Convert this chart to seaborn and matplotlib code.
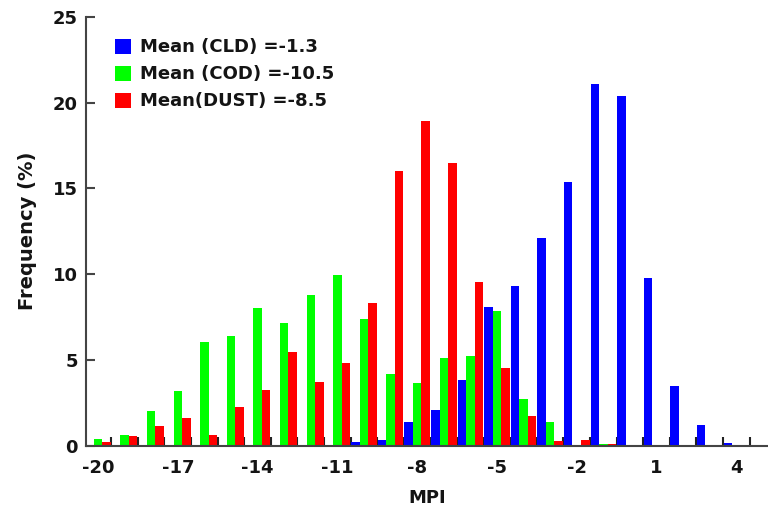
import numpy as np
import pandas as pd
import matplotlib
matplotlib.use("Agg")
import matplotlib.pyplot as plt
import seaborn as sns

mpi = list(range(-20, 5))
cld = [0, 0, 0, 0, 0, 0, 0, 0, 0, 0,
       0.2, 0.3, 1.35, 2.1, 3.8, 8.1, 9.3, 12.1, 15.4, 21.1, 20.4, 9.8, 3.45, 1.2, 0.15]
cod = [0.4, 0.6, 2.0, 3.2, 6.05, 6.4, 8.0, 7.15, 8.8, 9.95,
       7.4, 4.15, 3.65, 5.1, 5.25, 7.85, 2.7, 1.4, 0.0, 0.1, 0, 0, 0, 0, 0]
dust = [0.2, 0.55, 1.15, 1.6, 0.6, 2.27, 3.25, 5.45, 3.7, 4.8,
        8.3, 16.0, 18.95, 16.5, 9.55, 4.5, 1.7, 0.25, 0.3, 0.1, 0, 0, 0, 0, 0]
labels = ["Mean (CLD) =-1.3", "Mean (COD) =-10.5", "Mean(DUST) =-8.5"]
colors = ["#0000FF", "#00FF00", "#FF0000"]
xtick_vals = [-20, -17, -14, -11, -8, -5, -2, 1, 4]
ytick_vals = [0, 5, 10, 15, 20, 25]

df = pd.concat([
    pd.DataFrame({"MPI": mpi, "Frequency": vals, "series": lab})
    for vals, lab in zip([cld, cod, dust], labels)
], ignore_index=True)

sns.set_style("white")
plt.rcParams["font.family"] = ["DejaVu Sans"]
plt.rcParams["font.weight"] = "bold"
txt_c = "#141414"
plt.rcParams["text.color"] = txt_c
plt.rcParams["axes.labelcolor"] = txt_c
plt.rcParams["xtick.color"] = txt_c
plt.rcParams["ytick.color"] = txt_c

fig = plt.figure(figsize=(7.68, 5.11), dpi=100)
ax = fig.add_axes([86 / 768, 1 - 445.5 / 511, 1 - 86 / 768, (445.5 - 17) / 511])

sns.barplot(data=df, x="MPI", y="Frequency", hue="series", hue_order=labels,
            palette=colors, native_scale=True, width=0.96, saturation=1,
            linewidth=0, errorbar=None, ax=ax)

ax.set_xlim(-20.45, 5.19)
ax.set_ylim(0, 25)
ax.set_xticks(xtick_vals)
ax.set_xticklabels([str(v) for v in xtick_vals])
ax.set_xticks(np.arange(-19.5, 5, 1), minor=True)
ax.set_yticks(ytick_vals)

spine_c = "#444444"
for s in ["top", "right"]:
    ax.spines[s].set_visible(False)
for s in ["left", "bottom"]:
    ax.spines[s].set_color(spine_c)
    ax.spines[s].set_linewidth(1.5)

ax.tick_params(axis="x", which="major", length=0, pad=10, labelsize=13,
               labelcolor=txt_c)
ax.tick_params(axis="x", which="minor", direction="in", length=6.5, width=1.5,
               color="#222222", bottom=True)
ax.tick_params(axis="y", which="major", direction="in", length=6.5, width=1.5,
               color=spine_c, pad=6, labelsize=13, left=True, labelcolor=txt_c)

ax.set_xlabel("MPI", fontsize=13, fontweight="bold", labelpad=8, color=txt_c)
ax.set_ylabel("Frequency (%)", fontsize=14, fontweight="bold", labelpad=11,
              color=txt_c)

leg = ax.legend(loc="upper left", bbox_to_anchor=(0.032, 0.967), frameon=False,
                fontsize=13, handlelength=0.9, handleheight=0.9,
                handletextpad=0.5, labelspacing=0.5, borderaxespad=0)
for t in leg.get_texts():
    t.set_fontweight("bold")
    t.set_color(txt_c)

fig.savefig("out.png", dpi=100)
